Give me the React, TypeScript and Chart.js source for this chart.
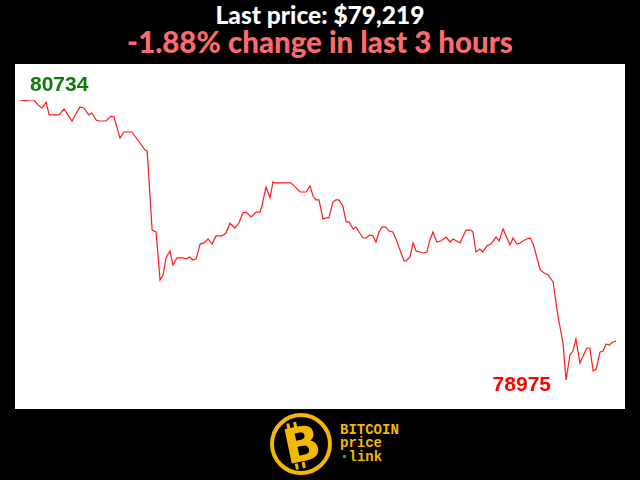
import React, { useEffect, useRef } from "react";
import { Chart, registerables } from "chart.js";

Chart.register(...registerables);

const TITLE = "Last price: $79,219";
const SUBTITLE = "-1.88% change in last 3 hours";
const HIGH_LABEL = "80734";
const LOW_LABEL = "78975";
const Y_MIN = 78975;
const Y_MAX = 80734;

// minutes since start of window
const minutes = [
  0, 1.8, 2.7, 4.2, 5.4, 6.6, 7.9, 8.8, 11.8, 13.3, 15.7, 18.1, 19.3, 20.8, 21.7, 23.0, 23.9, 26.0, 27.5, 28.4,
  30.2, 31.4, 33.8, 37.8, 38.4, 39.9, 41.1, 42.3, 43.2, 44.1, 45.3, 46.2, 47.4, 49.2, 50.1, 51.3, 52.2, 53.2,
  54.4, 55.6, 56.8, 58.0, 59.2, 61.0, 62.2, 63.4, 64.9, 66.1, 67.3, 68.3, 69.8, 71.3, 72.5, 73.1, 74.3, 75.5,
  76.4, 77.0, 81.8, 83.1, 84.6, 86.4, 87.6, 88.5, 89.4, 90.3, 91.5, 92.4, 93.3, 94.5, 95.4, 96.3, 97.5, 98.5,
  99.4, 100.6, 101.5, 102.4, 103.6, 104.5, 105.7, 106.6, 107.5, 108.4, 109.3, 110.5, 111.4, 112.6, 113.9,
  115.1, 116.0, 116.6, 117.8, 118.7, 119.6, 120.8, 122.0, 122.9, 123.8, 124.7, 125.9, 127.1, 128.7, 129.9,
  130.8, 132.9, 134.7, 136.2, 136.8, 137.7, 138.9, 139.8, 141.0, 142.2, 143.8, 144.7, 145.9, 147.1, 148.0,
  148.9, 150.1, 151.0, 152.9, 154.1, 155.0, 157.1, 158.3, 159.5, 161.0, 162.5, 164.0, 164.9, 166.1, 167.0,
  167.9, 169.1, 171.2, 172.1, 173.1, 174.0, 175.2, 176.1, 177.0, 177.9, 179.1, 180.0,
];

const prices = [
  80734, 80728, 80734, 80734, 80703, 80684, 80721, 80640, 80640, 80677, 80602, 80690, 80684, 80640, 80652, 80608, 80602, 80602, 80633, 80627,
  80495, 80533, 80533, 80420, 80414, 79917, 79905, 79603, 79635, 79742, 79786, 79697, 79742, 79742, 79736, 79748, 79729, 79736,
  79829, 79836, 79861, 79829, 79880, 79880, 79898, 79961, 79930, 79961, 80024, 80030, 79999, 80030, 80030, 80074, 80188, 80118,
  80219, 80213, 80213, 80188, 80156, 80156, 80194, 80131, 80106, 80106, 79986, 79993, 79993, 80093, 80106, 80106, 80068, 79968,
  79968, 79924, 79936, 79905, 79867, 79867, 79886, 79880, 79842, 79905, 79936, 79936, 79911, 79905, 79842,
  79773, 79723, 79723, 79748, 79836, 79786, 79779, 79773, 79779, 79855, 79905, 79842, 79848, 79873, 79842,
  79861, 79836, 79917, 79917, 79905, 79779, 79798, 79779, 79817, 79829, 79873, 79848, 79924, 79867, 79823,
  79867, 79829, 79836, 79861, 79867, 79829, 79666, 79647, 79635, 79591, 79371, 79207, 78975, 79132, 79157,
  79233, 79082, 79176, 79176, 79032, 79044, 79151, 79157, 79201, 79195, 79214, 79219,
];

const labelPlugin = {
  id: "hiLoLabels",
  afterDatasetsDraw(chart: any) {
    const { ctx, chartArea, scales } = chart;
    const xs = scales.x;
    const ys = scales.y;
    let maxI = 0;
    let minI = 0;
    prices.forEach((p, i) => {
      if (p > prices[maxI]) maxI = i;
      if (p < prices[minI]) minI = i;
    });
    ctx.save();
    ctx.font = "bold 21px 'Liberation Sans', Arial, sans-serif";
    ctx.textBaseline = "alphabetic";
    ctx.fillStyle = "#0a7d0a";
    ctx.textAlign = "left";
    ctx.fillText(HIGH_LABEL, chartArea.left + 10, ys.getPixelForValue(prices[maxI]) - 9);
    ctx.fillStyle = "#ff0000";
    ctx.textAlign = "right";
    ctx.fillText(LOW_LABEL, xs.getPixelForValue(minutes[minI]) - 15, ys.getPixelForValue(prices[minI]) + 11);
    ctx.restore();
  },
};

function PriceChart() {
  const ref = useRef<HTMLCanvasElement | null>(null);
  useEffect(() => {
    if (!ref.current) return;
    const chart = new Chart(ref.current, {
      type: "line",
      data: {
        datasets: [
          {
            data: minutes.map((m, i) => ({ x: m, y: prices[i] })),
            borderColor: "#ff1a1a",
            borderWidth: 1.2,
            pointRadius: 0,
            tension: 0,
            fill: false,
          },
        ],
      },
      options: {
        animation: false,
        responsive: false,
        maintainAspectRatio: false,
        layout: { padding: { left: 5, right: 9, top: 36, bottom: 29 } },
        plugins: { legend: { display: false }, tooltip: { enabled: false }, title: { display: false } },
        scales: {
          x: { type: "linear", min: 0, max: 180, display: false },
          y: { type: "linear", min: Y_MIN, max: Y_MAX, display: false },
        },
      },
      plugins: [labelPlugin],
    });
    return () => chart.destroy();
  }, []);
  return (
    <canvas
      ref={ref}
      width={610}
      height={345}
      style={{ position: "absolute", left: 15, top: 64, width: 610, height: 345, background: "#ffffff" }}
    />
  );
}

function Logo() {
  const yellow = "#f4b800";
  return (
    <svg width={140} height={70} style={{ position: "absolute", left: 265, top: 409 }} viewBox="0 0 140 70">
      <circle cx={36} cy={35} r={29} fill="#000" stroke={yellow} strokeWidth={4} />
      <g transform="translate(37 36) rotate(-12)">
        <text x={0} y={16} textAnchor="middle" fill={yellow} fontFamily="'DejaVu Sans', sans-serif" fontWeight="bold" fontSize={48}>
          B
        </text>
        <rect x={-11} y={-24} width={3} height={6} fill={yellow} />
        <rect x={-4} y={-24} width={3} height={6} fill={yellow} />
        <rect x={-11} y={17} width={3} height={6} fill={yellow} />
        <rect x={-4} y={17} width={3} height={6} fill={yellow} />
      </g>
      <text x={75} y={25} fill={yellow} fontFamily="'Liberation Mono', monospace" fontWeight="bold" fontSize={14}>
        BITCOIN
      </text>
      <text x={75} y={38} fill={yellow} fontFamily="'Liberation Mono', monospace" fontWeight="bold" fontSize={14}>
        price
      </text>
      <rect x={78} y={46} width={3} height={3} fill="#22aa22" />
      <text x={83.5} y={52} fill={yellow} fontFamily="'Liberation Mono', monospace" fontWeight="bold" fontSize={14}>
        link
      </text>
    </svg>
  );
}

export default function App() {
  useEffect(() => {
    document.body.style.margin = "0";
    document.body.style.background = "#000";
  }, []);
  return (
    <div style={{ position: "fixed", left: 0, top: 0, width: 640, height: 480, background: "#000", overflow: "hidden" }}>
      <div
        style={{
          position: "absolute",
          left: 0,
          width: 640,
          top: 0,
          textAlign: "center",
          color: "#ffffff",
          fontFamily: "Lato, sans-serif",
          fontWeight: 900,
          fontSize: 24.5,
          lineHeight: "30px",
        }}
      >
        {TITLE}
      </div>
      <div
        style={{
          position: "absolute",
          left: 0,
          width: 640,
          top: 24,
          textAlign: "center",
          color: "#ff6b6b",
          fontFamily: "Lato, sans-serif",
          fontWeight: 900,
          fontSize: 29.5,
          lineHeight: "36px",
        }}
      >
        {SUBTITLE}
      </div>
      <PriceChart />
      <Logo />
    </div>
  );
}
